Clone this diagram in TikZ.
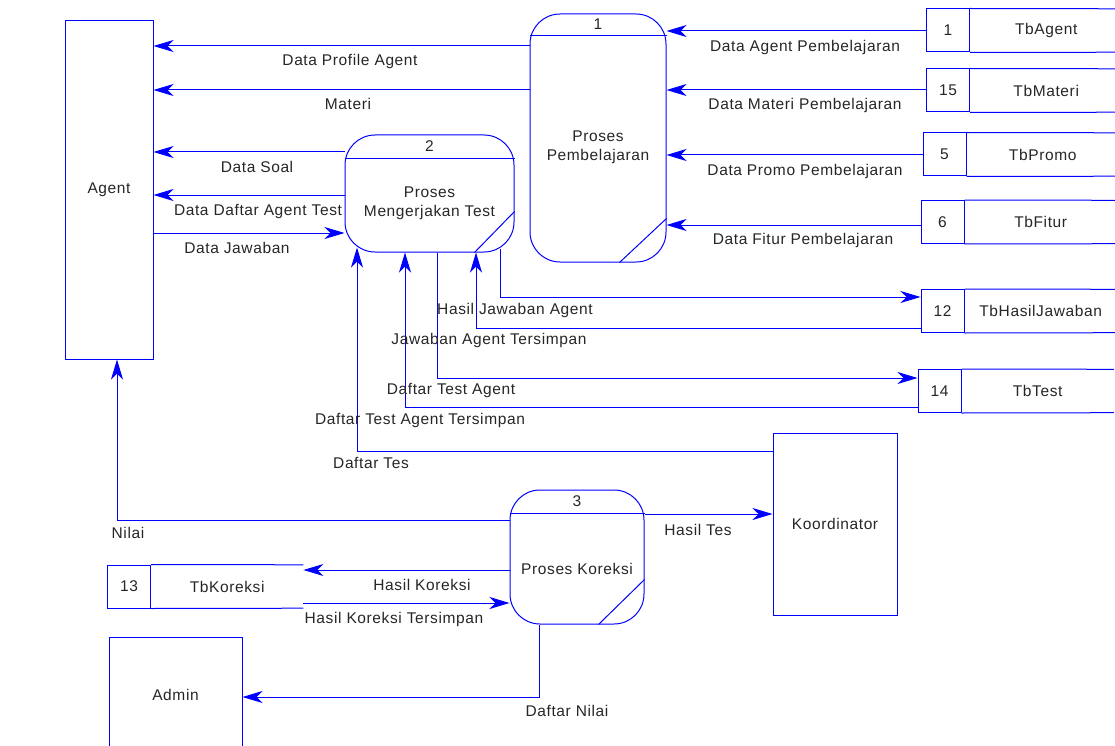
\documentclass[tikz,border=0pt]{standalone}
\usepackage{fontspec}
\setmainfont{Liberation Sans}[LetterSpace=4]
\usetikzlibrary{positioning,arrows.meta}

\begin{document}
\begin{tikzpicture}[x=1pt, y=-1pt,
    font=\fontsize{15.5}{19}\selectfont, text=black!85,
    entitas/.style={rectangle, draw=blue, line width=1pt},
    proses/.style={rectangle, draw=blue, line width=1pt, rounded corners=30pt},
    storeno/.style={rectangle, draw=blue, line width=1pt, minimum width=43pt, minimum height=43pt, inner sep=0pt},
    storename/.style={rectangle, minimum width=152pt, minimum height=43pt, inner sep=0pt},
    garis/.style={draw=blue, line width=1pt},
    alir/.style={draw=blue, line width=1pt, -{Stealth[length=20pt,width=12pt,inset=6pt]}},
    lbl/.style={inner sep=1pt}]

    \useasboundingbox (0,0) rectangle (1115,746);

    % external entities
    \node[entitas, minimum width=88pt, minimum height=338pt] (agent) at (109,190) {Agent};
    \node[entitas, minimum width=124pt, minimum height=182pt] (koord) at (835,524) {Koordinator};
    \node[entitas, minimum width=133pt, minimum height=116pt] (admin) at (175.5,695) {Admin};

    % processes
    \node[proses, minimum width=136pt, minimum height=248pt] (p1) at (598,138) {};
    \node (p1-no) at ([yshift=-11pt]p1.north) {1};
    \node[align=center] (p1-nama) at ([yshift=-9pt]p1.center) {Proses\\Pembelajaran};
    \draw[garis] ([yshift=-22pt]p1.north west) -- ([yshift=-22pt]p1.north east);
    \draw[garis] ([xshift=-47pt]p1.south east) -- ([yshift=44pt]p1.south east);

    \node[proses, minimum width=169pt, minimum height=117pt] (p2) at (429.5,193.5) {};
    \node (p2-no) at ([yshift=-11.5pt]p2.north) {2};
    \node[align=center] (p2-nama) at ([yshift=-10pt]p2.center) {Proses\\Mengerjakan Test};
    \draw[garis] ([yshift=-24pt]p2.north west) -- ([yshift=-24pt]p2.north east);
    \draw[garis] ([xshift=-40pt]p2.south east) -- ([yshift=41pt]p2.south east);

    \node[proses, minimum width=134pt, minimum height=134pt] (p3) at (577,557) {};
    \node (p3-no) at ([yshift=-12pt]p3.north) {3};
    \node (p3-nama) at ([yshift=-12pt]p3.center) {Proses Koreksi};
    \draw[garis] ([yshift=-24pt]p3.north west) -- ([yshift=-24pt]p3.north east);
    \draw[garis] ([xshift=-46pt]p3.south east) -- ([yshift=45pt]p3.south east);

    % data stores
    \node[storeno] (s1) at (948,30.5) {1};
    \node[storename, right=0pt of s1] (tbagent) {TbAgent};
    \node[storeno] (s2) at (948,90.5) {15};
    \node[storename, right=0pt of s2] (tbmateri) {TbMateri};
    \node[storeno] (s3) at (944.5,154.5) {5};
    \node[storename, right=0pt of s3] (tbpromo) {TbPromo};
    \node[storeno] (s4) at (942.5,222) {6};
    \node[storename, right=0pt of s4] (tbfitur) {TbFitur};
    \node[storeno] (s5) at (942.5,311) {12};
    \node[storename, right=0pt of s5] (tbhasil) {TbHasilJawaban};
    \node[storeno] (s6) at (939.5,391) {14};
    \node[storename, right=0pt of s6] (tbtest) {TbTest};
    \node[storeno] (s7) at (129,586.5) {13};
    \node[storename, right=0pt of s7] (tbkoreksi) {TbKoreksi};
    \draw[garis] (s1.north east) -- (tbagent.north east) (s1.south east) -- (tbagent.south east);
    \draw[garis] (s2.north east) -- (tbmateri.north east) (s2.south east) -- (tbmateri.south east);
    \draw[garis] (s3.north east) -- (tbpromo.north east) (s3.south east) -- (tbpromo.south east);
    \draw[garis] (s4.north east) -- (tbfitur.north east) (s4.south east) -- (tbfitur.south east);
    \draw[garis] (s5.north east) -- (tbhasil.north east) (s5.south east) -- (tbhasil.south east);
    \draw[garis] (s6.north east) -- (tbtest.north east) (s6.south east) -- (tbtest.south east);
    \draw[garis] (s7.north east) -- (tbkoreksi.north east) (s7.south east) -- (tbkoreksi.south east);

    % flows around Agent
    \draw[alir] (p1.west |- 0,46) -- (agent.east |- 0,46);
    \draw[alir] (p1.west |- 0,90) -- (agent.east |- 0,90);
    \draw[alir] (p2.west |- 0,152) -- (agent.east |- 0,152);
    \draw[alir] (p2.west |- 0,195) -- (agent.east |- 0,195);
    \draw[alir] (agent.east |- 0,233) -- (p2.west |- 0,233);
    \node[lbl] (l-profile) at (350,61) {Data Profile Agent};
    \node[lbl] (l-materi) at (348,104) {Materi};
    \node[lbl] (l-soal) at (257,167) {Data Soal};
    \node[lbl] (l-daftar) at (258,211) {Data Daftar Agent Test};
    \node[lbl] (l-jawaban) at (237,248) {Data Jawaban};

    % stores into Proses Pembelajaran
    \draw[alir] (s1.west |- 0,31) -- (p1.east |- 0,31);
    \draw[alir] (s2.west |- 0,90) -- (p1.east |- 0,90);
    \draw[alir] (s3.west |- 0,155) -- (p1.east |- 0,155);
    \draw[alir] (s4.west |- 0,225) -- (p1.east |- 0,225);
    \node[lbl] (l-agent) at (805,47) {Data Agent Pembelajaran};
    \node[lbl] (l-dmateri) at (805,105) {Data Materi Pembelajaran};
    \node[lbl] (l-promo) at (805,171) {Data Promo Pembelajaran};
    \node[lbl] (l-fitur) at (803,240) {Data Fitur Pembelajaran};

    % flows under Proses Mengerjakan Test
    \draw[alir] ([xshift=70.5pt,yshift=4pt]p2.south) |- (s5.west |- 0,297);
    \draw[alir] (s5.west |- 0,328) -| ([xshift=46.5pt]p2.south);
    \draw[alir] ([xshift=7.5pt]p2.south) |- (s6.west |- 0,378);
    \draw[alir] (s6.west |- 0,407) -| ([xshift=-24.5pt]p2.south);
    \draw[alir] (koord.west |- 0,451) -| ([xshift=-72.5pt,yshift=5pt]p2.south);
    \node[lbl] (l-hasiljwb) at (515,310) {Hasil Jawaban Agent};
    \node[lbl] (l-jwbsimpan) at (489,340) {Jawaban Agent Tersimpan};
    \node[lbl] (l-dtest) at (451,390) {Daftar Test Agent};
    \node[lbl] (l-dtestsimpan) at (420,420) {Daftar Test Agent Tersimpan};
    \node[lbl] (l-dtes) at (371,463) {Daftar Tes};

    % flows around Proses Koreksi
    \draw[alir] (p3.west |- 0,520) -| ([xshift=8pt]agent.south);
    \draw[alir] (p3.east |- 0,514) -- (koord.west |- 0,514);
    \draw[alir] (p3.west |- 0,570) -- (tbkoreksi.east |- 0,570);
    \draw[alir] (tbkoreksi.east |- 0,603) -- (p3.west |- 0,603);
    \draw[alir] ([xshift=-38pt]p3.south) |- (admin.east |- 0,697);
    \node[lbl] (l-nilai) at (128,533) {Nilai};
    \node[lbl] (l-hasiltes) at (698,530) {Hasil Tes};
    \node[lbl] (l-koreksi) at (422,585) {Hasil Koreksi};
    \node[lbl] (l-korsimpan) at (394,619) {Hasil Koreksi Tersimpan};
    \node[lbl] (l-dnilai) at (567,711) {Daftar Nilai};
\end{tikzpicture}
\end{document}
